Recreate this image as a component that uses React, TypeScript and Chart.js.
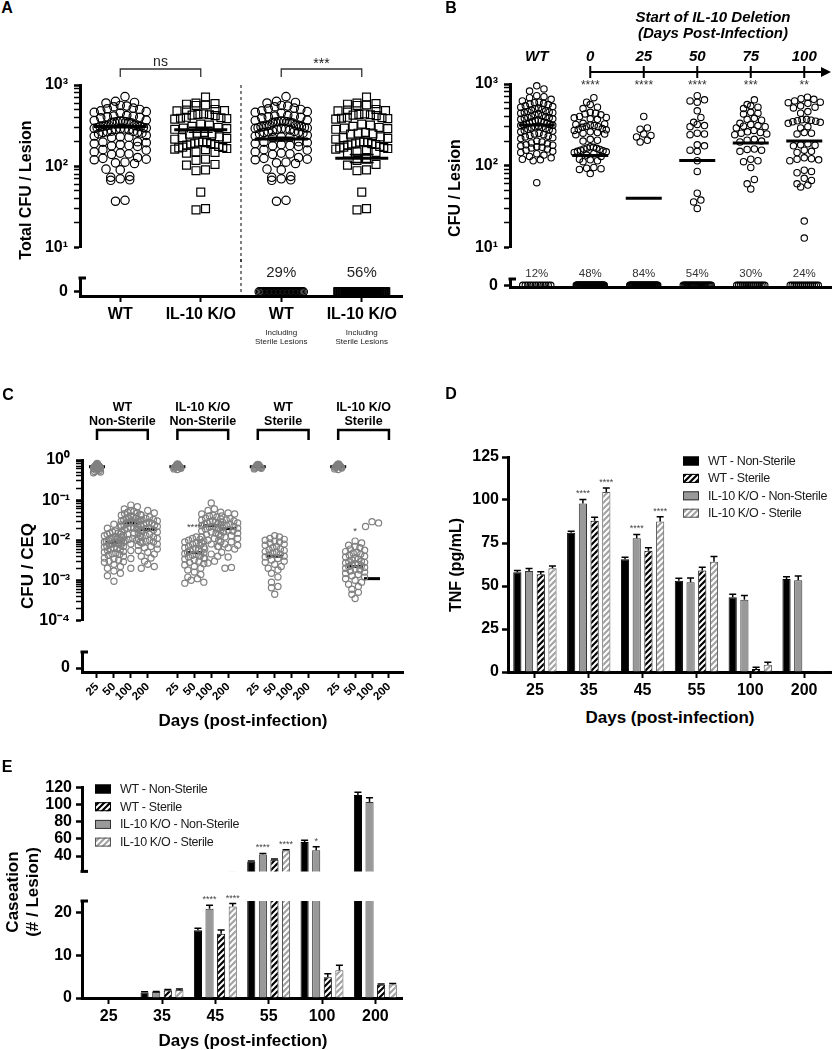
import React, { useEffect, useRef } from "react";
import { Chart, registerables } from "chart.js";

Chart.register(...registerables);

const FONT = "'Liberation Sans', Arial, Helvetica, sans-serif";

/* ================= Panel A : Total CFU / Lesion ================= */
const aCategories = ["WT", "IL-10 K/O", "WT", "IL-10 K/O"];
const aSubLabels = [[], [], ["Including", "Sterile Lesions"], ["Including", "Sterile Lesions"]];
const aWildType = [720, 630, 610, 600, 560, 550, 540, 520, 510, 500, 480, 470, 460, 450, 420, 415, 410, 405, 400, 395, 370, 365, 360, 358, 355, 352, 350, 348, 345, 340, 320, 318, 315, 312, 310, 308, 305, 300, 298, 295, 292, 290, 288, 285, 280, 270, 268, 265, 262, 260, 255, 250, 240, 235, 230, 228, 225, 200, 198, 195, 190, 185, 180, 178, 175, 160, 158, 150, 145, 142, 140, 128, 125, 122, 120, 112, 110, 108, 92, 90, 75, 73, 70, 68, 67, 38, 37];
const aKnockout = [710, 600, 590, 580, 570, 560, 500, 490, 485, 480, 440, 435, 430, 425, 420, 400, 395, 390, 385, 380, 330, 320, 310, 300, 295, 290, 285, 260, 255, 250, 248, 230, 225, 220, 215, 200, 198, 195, 192, 190, 188, 185, 182, 175, 172, 170, 168, 165, 162, 160, 150, 148, 145, 122, 118, 105, 103, 90, 88, 48, 30, 29];
const aColumns = [aWildType, aKnockout, aWildType, aKnockout];
const aMarkers = ["circle", "rect", "circle", "rect"];
const aSterileCounts = [0, 0, 35, 70];
const aMeans = [308, 282, 216, 125];
const aSEM = [10, 20, 12, 14];
const aPercents = ["", "", "29%", "56%"];
const aPairs = [[0, 1], [2, 3]];
const aPairLabels = ["ns", "***"];

/* ================= Panel B : CFU / Lesion by deletion start ================= */
const bCategories = ["WT", "0", "25", "50", "75", "100"];
const bWildType = [950, 870, 820, 720, 700, 680, 650, 620, 600, 590, 580, 570, 560, 540, 530, 520, 510, 500, 490, 480, 470, 460, 455, 450, 445, 440, 430, 420, 410, 400, 395, 390, 385, 380, 375, 370, 360, 355, 350, 345, 340, 335, 330, 325, 320, 315, 312, 310, 305, 300, 295, 290, 285, 280, 275, 270, 265, 260, 250, 245, 240, 235, 230, 225, 220, 215, 200, 195, 190, 185, 180, 178, 175, 170, 168, 165, 160, 155, 150, 145, 140, 135, 130, 125, 120, 118, 115, 62];
const bDay0 = [680, 600, 560, 520, 500, 450, 440, 430, 420, 400, 390, 385, 375, 370, 330, 325, 320, 315, 310, 305, 300, 295, 285, 280, 275, 270, 260, 255, 250, 245, 240, 210, 205, 200, 170, 168, 165, 163, 160, 158, 155, 152, 150, 148, 145, 140, 135, 130, 120, 118, 115, 112, 95, 93, 92, 90, 80];
const bDay25 = [400, 290, 280, 245, 235, 225, 205, 195];
const bDay50 = [720, 640, 620, 600, 470, 390, 340, 320, 310, 300, 250, 245, 240, 180, 175, 155, 150, 115, 85, 46, 38, 36, 30];
const bDay75 = [640, 560, 540, 520, 500, 450, 440, 430, 380, 370, 360, 330, 320, 310, 305, 300, 290, 270, 260, 255, 250, 245, 240, 210, 205, 200, 195, 160, 158, 155, 150, 120, 115, 112, 95, 68, 60, 52];
const bDay100 = [690, 660, 650, 620, 600, 590, 580, 540, 520, 510, 460, 440, 370, 365, 360, 355, 350, 345, 340, 330, 300, 290, 255, 250, 245, 185, 180, 178, 175, 155, 150, 145, 125, 122, 120, 118, 115, 88, 85, 82, 70, 66, 60, 58, 55, 21, 13];
const bColumns = [bWildType, bDay0, bDay25, bDay50, bDay75, bDay100];
const bSterileCounts = [12, 53, 42, 27, 16, 15];
const bMedians = [315, 133, 40, 116, 190, 200];
const bStars = ["", "****", "****", "****", "***", "**"];
const bPercents = ["12%", "48%", "84%", "54%", "30%", "24%"];

/* ================= Panel C : CFU / CEQ ================= */
const cGroups = [["WT", "Non-Sterile"], ["IL-10 K/O", "Non-Sterile"], ["WT", "Sterile"], ["IL-10 K/O", "Sterile"]];
const cDays = ["25", "50", "100", "200"];
const cWtNonSterile = [
  [0.82, 0.8, 0.78, 0.76, 0.75, 0.74, 0.72, 0.71, 0.7, 0.7, 0.69, 0.68, 0.67, 0.66, 0.65, 0.64, 0.63, 0.62, 0.6, 0.58, 0.56, 0.54, 0.52, 0.5, 0.48],
  [0.025, 0.024, 0.02, 0.017, 0.016, 0.015, 0.015, 0.014, 0.014, 0.013, 0.013, 0.012, 0.012, 0.011, 0.011, 0.011, 0.01, 0.01, 0.01, 0.0095, 0.009, 0.009, 0.0088, 0.0085, 0.008, 0.008, 0.0078, 0.0075, 0.0072, 0.007, 0.0068, 0.0065, 0.0062, 0.006, 0.0058, 0.0055, 0.0052, 0.005, 0.0048, 0.0046, 0.0044, 0.0042, 0.004, 0.0036, 0.0034, 0.0032, 0.003, 0.0029, 0.0028, 0.0025, 0.0022, 0.002, 0.0017, 0.0015, 0.0013, 0.00095],
  [0.075, 0.068, 0.06, 0.055, 0.052, 0.05, 0.048, 0.046, 0.044, 0.042, 0.04, 0.038, 0.036, 0.035, 0.034, 0.033, 0.032, 0.031, 0.03, 0.029, 0.028, 0.027, 0.026, 0.025, 0.024, 0.023, 0.022, 0.021, 0.02, 0.02, 0.019, 0.018, 0.017, 0.016, 0.015, 0.014, 0.013, 0.012, 0.011, 0.0105, 0.01, 0.0095, 0.009, 0.0085, 0.008, 0.0055, 0.0035, 0.002],
  [0.055, 0.048, 0.042, 0.038, 0.035, 0.033, 0.032, 0.03, 0.029, 0.028, 0.027, 0.026, 0.025, 0.024, 0.023, 0.022, 0.021, 0.02, 0.019, 0.018, 0.017, 0.016, 0.015, 0.014, 0.013, 0.012, 0.012, 0.011, 0.011, 0.01, 0.0095, 0.009, 0.0085, 0.008, 0.0075, 0.007, 0.0065, 0.006, 0.0055, 0.005, 0.0045, 0.004, 0.0036, 0.003, 0.0025, 0.0022, 0.002],
];
const cKoNonSterile = [
  [0.8, 0.78, 0.76, 0.74, 0.72, 0.7, 0.7, 0.68, 0.67, 0.66, 0.65, 0.64, 0.62, 0.6, 0.58],
  [0.012, 0.011, 0.0105, 0.01, 0.0095, 0.009, 0.0085, 0.008, 0.0075, 0.007, 0.0068, 0.0065, 0.0062, 0.006, 0.0058, 0.0055, 0.0052, 0.005, 0.0048, 0.0046, 0.0044, 0.0042, 0.004, 0.0038, 0.0036, 0.0034, 0.0032, 0.003, 0.0028, 0.0026, 0.0024, 0.0022, 0.002, 0.0018, 0.0016, 0.0014, 0.0012, 0.0011, 0.001, 0.0009, 0.00085],
  [0.085, 0.06, 0.055, 0.05, 0.045, 0.042, 0.04, 0.038, 0.036, 0.034, 0.032, 0.03, 0.029, 0.028, 0.027, 0.026, 0.025, 0.024, 0.023, 0.022, 0.021, 0.02, 0.019, 0.018, 0.017, 0.016, 0.015, 0.014, 0.013, 0.012, 0.011, 0.01, 0.009, 0.0085, 0.008, 0.007, 0.006, 0.0045, 0.004, 0.0035, 0.003, 0.0027],
  [0.048, 0.045, 0.04, 0.035, 0.032, 0.03, 0.028, 0.027, 0.026, 0.025, 0.024, 0.022, 0.021, 0.02, 0.019, 0.018, 0.017, 0.016, 0.015, 0.014, 0.013, 0.012, 0.011, 0.01, 0.009, 0.008, 0.0075, 0.007, 0.0065, 0.006, 0.005, 0.0038, 0.0021, 0.002],
];
const cWtSterile = [
  [0.78, 0.76, 0.74, 0.72, 0.7, 0.68, 0.66, 0.65, 0.63, 0.62, 0.6],
  [0.013, 0.012, 0.011, 0.0105, 0.01, 0.0095, 0.009, 0.0085, 0.008, 0.0075, 0.007, 0.0065, 0.006, 0.0058, 0.0055, 0.0052, 0.005, 0.0048, 0.0045, 0.0042, 0.004, 0.0038, 0.0035, 0.0032, 0.003, 0.0028, 0.0025, 0.0022, 0.002, 0.0018, 0.0015, 0.0012, 0.0009, 0.0007, 0.00065, 0.00045],
  [],
  [],
];
const cKoSterile = [
  [0.8, 0.78, 0.76, 0.74, 0.72, 0.7, 0.69, 0.68, 0.66, 0.65, 0.63, 0.6, 0.58],
  [0.0095, 0.0085, 0.0075, 0.007, 0.0065, 0.006, 0.0056, 0.0052, 0.005, 0.0048, 0.0045, 0.0042, 0.004, 0.0038, 0.0036, 0.0034, 0.0032, 0.003, 0.0029, 0.0028, 0.0027, 0.0026, 0.0025, 0.0024, 0.0023, 0.0022, 0.0021, 0.002, 0.0019, 0.0018, 0.0017, 0.0016, 0.0015, 0.0014, 0.0013, 0.0012, 0.0011, 0.001, 0.0009, 0.0008, 0.0007, 0.0006, 0.0005, 0.00045, 0.00035],
  [0.029, 0.027, 0.022],
  [],
];
const cValues = [cWtNonSterile, cKoNonSterile, cWtSterile, cKoSterile];
const cMeans = [[0.68, 0.0088, 0.027, 0.0186], [0.68, 0.0049, 0.023, 0.0195], [0.68, 0.004, null, null], [0.68, 0.0022, 0.0011, null]];
const cStars = [["", "", "", ""], ["", "****", "", ""], ["", "", "", ""], ["", "*", "", ""]];

/* ================= Panels D & E : bars ================= */
const seriesLabels = ["WT - Non-Sterile", "IL-10 K/O - Non-Sterile", "WT - Sterile", "IL-10 K/O - Sterile"];
const legendOrder = [0, 2, 1, 3];

const dDays = ["25", "35", "45", "55", "100", "200"];
const dWtNonSterile = [58, 81, 65.5, 53, 43.5, 54];
const dKoNonSterile = [58.7, 98, 77.7, 52.2, 42, 53.3];
const dWtSterile = [56.8, 88, 70.5, 59, 1.7, 0.3];
const dKoSterile = [60.3, 104.7, 87.5, 64.1, 4.2, 0.5];
const dWtNonSterileErr = [1, 0.8, 1.2, 1.5, 1.7, 1.4];
const dKoNonSterileErr = [1.5, 2.3, 2.3, 2.5, 2.5, 2.5];
const dWtSterileErr = [1.5, 1.9, 1.7, 1.9, 1, 0];
const dKoSterileErr = [1.4, 2.3, 2.7, 3.1, 1.4, 0];
const dKoNonSterileStars = ["", "****", "****", "", "", ""];
const dKoSterileStars = ["", "****", "****", "", "", ""];

const eDays = ["25", "35", "45", "55", "100", "200"];
const eWtNonSterile = [0, 1.3, 15.9, 33.3, 56.3, 111.3];
const eKoNonSterile = [0, 1.4, 21, 41.7, 46.7, 103.3];
const eWtSterile = [0, 1.8, 15.1, 35.7, 4.9, 3.1];
const eKoSterile = [0, 1.9, 21.5, 46.3, 6.5, 3.2];
const eWtNonSterileErr = [0, 0.15, 0.5, 0.8, 2, 3.3];
const eKoNonSterileErr = [0, 0.15, 0.8, 1.3, 4, 4.7];
const eWtSterileErr = [0, 0.2, 0.9, 0.8, 0.8, 0.2];
const eKoSterileErr = [0, 0.2, 0.7, 1, 1.2, 0.2];
const eKoNonSterileStars = ["", "", "****", "****", "*", ""];
const eKoSterileStars = ["", "", "****", "****", "", ""];

/* ================= helpers ================= */
const tickFont = { family: FONT, size: 16, weight: "bold" };
const SUP: any = { "0": "\u2070", "1": "\u00B9", "2": "\u00B2", "3": "\u00B3", "4": "\u2074", "5": "\u2075", "6": "\u2076", "7": "\u2077", "8": "\u2078", "9": "\u2079", "-": "\u207B" };

function powLabel(v: number) {
  if (!(v > 0)) return "";
  const e = Math.round(Math.log10(v));
  if (Math.abs(v / Math.pow(10, e) - 1) > 1e-6) return "";
  return "10" + String(e).split("").map((ch) => SUP[ch] || ch).join("");
}

function logTicks(min: number, max: number) {
  const out: any[] = [];
  for (let e = Math.floor(Math.log10(min)); e <= Math.ceil(Math.log10(max)); e++) {
    for (let m = 1; m < 10; m++) {
      const v = m * Math.pow(10, e);
      if (v >= min * 0.999 && v <= max * 1.001) out.push({ value: v });
    }
  }
  return out;
}

function yLog(min: number, max: number, w: number) {
  return {
    type: "logarithmic", position: "left", min, max,
    afterFit: (s: any) => { s.width = w; },
    afterBuildTicks: (s: any) => { s.ticks = logTicks(min, max); },
    ticks: { autoSkip: false, color: "#000", font: tickFont, padding: 6, callback: (v: number) => powLabel(v) },
    grid: { drawOnChartArea: false, color: "#000", tickLength: 6, tickWidth: (c: any) => (c.tick && powLabel(c.tick.value) ? 2.5 : 1.5) },
    border: { color: "#000", width: 3 },
  };
}

function yLin(min: number, max: number, w: number, ticks: number[], pad: number) {
  return {
    type: "linear", position: "left", min, max,
    afterFit: (s: any) => { s.width = w; },
    afterBuildTicks: (s: any) => { s.ticks = ticks.map((v) => ({ value: v })); },
    ticks: { autoSkip: false, color: "#000", font: tickFont, padding: pad, callback: (v: number) => String(v) },
    grid: { drawOnChartArea: false, color: "#000", tickLength: 6, tickWidth: 2.5 },
    border: { color: "#000", width: 3 },
  };
}

function xLin(min: number, max: number, o: any) {
  return {
    type: "linear", position: "bottom", min, max, display: o.show,
    afterFit: (s: any) => { s.height = o.h; },
    afterBuildTicks: (s: any) => { s.ticks = (o.ticks || []).map((v: number) => ({ value: v })); },
    ticks: {
      display: !!o.labels, autoSkip: false, color: "#000", font: o.font || tickFont, padding: o.pad ?? 3,
      minRotation: o.rot || 0, maxRotation: o.rot || 0,
      callback: (_v: number, i: number) => (o.labels ? o.labels[i] : ""),
    },
    grid: { display: !!o.tickLen, drawOnChartArea: false, color: "#000", tickLength: o.tickLen || 0, tickWidth: 2 },
    border: { color: "#000", width: 3 },
  };
}

function xCat(show: boolean, h: number) {
  return {
    type: "category", display: show, offset: true,
    afterFit: (s: any) => { s.height = h; },
    ticks: { autoSkip: false, color: "#000", font: tickFont, padding: 3, maxRotation: 0, minRotation: 0 },
    grid: { offset: false, drawOnChartArea: false, color: "#000", tickLength: 6, tickWidth: 2 },
    border: { color: "#000", width: 3 },
  };
}

function stub(chart: any, where: string) {
  const { ctx, chartArea: ca } = chart;
  const y = where === "top" ? ca.top : ca.bottom;
  ctx.save();
  ctx.strokeStyle = "#000";
  ctx.lineWidth = 3;
  ctx.beginPath();
  ctx.moveTo(ca.left - 1.5, y);
  ctx.lineTo(ca.left + 6, y);
  ctx.stroke();
  ctx.restore();
}

/* bee-swarm style layout of each dot column, in pixel space through the chart's scales */
function swarm(chart: any, cols: any[]) {
  const xs = chart.scales.x, ys = chart.scales.y;
  cols.forEach((c: any, di: number) => {
    if (!c.values.length) return;
    const cx = xs.getPixelForValue(c.x);
    const pts = c.values.map((v: number) => ({ v, py: ys.getPixelForValue(v) })).sort((a: any, b: any) => a.py - b.py);
    const rows: any[][] = [];
    let row: any[] = [];
    pts.forEach((p: any) => {
      if (row.length && p.py - row[0].py > c.diam * 0.8) { rows.push(row); row = []; }
      row.push(p);
    });
    if (row.length) rows.push(row);
    const data: any[] = [];
    rows.forEach((r) => {
      const n = r.length;
      const step = n > 1 ? Math.min(c.diam, c.width / (n - 1)) : 0;
      const slots = r.map((_: any, j: number) => (j - (n - 1) / 2) * step).sort((a: number, b: number) => Math.abs(a) - Math.abs(b) || b - a);
      r.forEach((p: any, j: number) => data.push({ x: xs.getValueForPixel(cx + slots[j]), y: p.v }));
    });
    chart.data.datasets[di].data = data;
  });
  chart.update();
}

function dotConfig(o: any) {
  const datasets: any[] = o.cols.map((c: any) => ({
    type: "scatter",
    data: c.values.map((v: number) => ({ x: c.x, y: v })),
    pointStyle: c.marker, pointRadius: c.radius, pointBorderColor: c.color,
    pointBackgroundColor: "rgba(255,255,255,0)", pointBorderWidth: c.bw, clip: false,
  }));
  if (o.means) {
    datasets.push({
      type: "scatter",
      data: o.means.filter((m: any) => m.y != null),
      pointStyle: "line", pointRadius: o.meanHalf, pointBorderColor: "#000", borderColor: "#000",
      pointBorderWidth: 3, borderWidth: 3, clip: false,
    });
  }
  const plugin: any = { id: "deco" };
  if (o.before) plugin.beforeDatasetsDraw = o.before;
  if (o.after) plugin.afterDatasetsDraw = o.after;
  const config = {
    type: "scatter",
    data: { datasets },
    options: { scales: { x: o.x, y: o.y }, plugins: { legend: { display: false }, tooltip: { enabled: false } } },
    plugins: [plugin],
  };
  return { config, after: (chart: any) => swarm(chart, o.cols) };
}

function stripes(bg: string, fg: string) {
  const c = document.createElement("canvas");
  c.width = 6; c.height = 6;
  const g: any = c.getContext("2d");
  g.fillStyle = bg; g.fillRect(0, 0, 6, 6);
  g.strokeStyle = fg; g.lineWidth = 2;
  g.beginPath();
  g.moveTo(0, 6); g.lineTo(6, 0);
  g.moveTo(-3, 3); g.lineTo(3, -3);
  g.moveTo(3, 9); g.lineTo(9, 3);
  g.stroke();
  return g.createPattern(c, "repeat");
}

function barConfig(o: any) {
  const styles = [
    { bg: "#000", border: "#000" },
    { bg: "#999", border: "#333" },
    { bg: stripes("#000", "#fff"), border: "#000" },
    { bg: stripes("#a3a3a3", "#fff"), border: "#555" },
  ];
  const datasets = o.series.map((vals: number[], i: number) => ({
    type: "bar", label: seriesLabels[i], data: vals,
    backgroundColor: styles[i].bg, borderColor: styles[i].border, borderWidth: 1,
    categoryPercentage: 0.87, barPercentage: 0.7, clip: o.clip,
  }));
  const plugins: any[] = [{
    id: "barDeco",
    afterDatasetsDraw(chart: any) {
      const ctx = chart.ctx, y = chart.scales.y;
      if (o.stubs) o.stubs.forEach((s: string) => stub(chart, s));
      chart.data.datasets.forEach((ds: any, di: number) => {
        const meta = chart.getDatasetMeta(di);
        meta.data.forEach((bar: any, i: number) => {
          const v = ds.data[i], e = o.errors[di][i];
          if (v < o.decoMin || v > y.max) return;
          const top = y.getPixelForValue(v), et = y.getPixelForValue(v + e);
          ctx.save();
          ctx.strokeStyle = "#000"; ctx.lineWidth = 1.5;
          if (e > 0) {
            ctx.beginPath();
            ctx.moveTo(bar.x, top); ctx.lineTo(bar.x, et);
            ctx.moveTo(bar.x - 3.5, et); ctx.lineTo(bar.x + 3.5, et);
            ctx.stroke();
          }
          const s = o.stars[di] && o.stars[di][i];
          if (s) {
            ctx.fillStyle = "#444"; ctx.font = `9px ${FONT}`;
            ctx.textAlign = "center"; ctx.textBaseline = "alphabetic";
            ctx.fillText(s, bar.x, et - 3);
          }
          ctx.restore();
        });
      });
    },
  }];
  if (o.legend) {
    plugins.push({
      id: "legendBox",
      afterDraw(chart: any) {
        const ctx = chart.ctx;
        const L = o.legend;
        legendOrder.forEach((di, k) => {
          const ds = chart.data.datasets[di];
          const cy = L.y + k * L.rowH;
          ctx.save();
          ctx.fillStyle = ds.backgroundColor;
          ctx.fillRect(L.x, cy - 4.5, 16, 9);
          ctx.strokeStyle = ds.borderColor; ctx.lineWidth = 1;
          ctx.strokeRect(L.x + 0.5, cy - 4, 15, 8);
          ctx.fillStyle = "#1a1a1a"; ctx.font = `12.5px ${FONT}`;
          try { ctx.letterSpacing = "-0.35px"; } catch (err) { /* ignore */ }
          ctx.textAlign = "left"; ctx.textBaseline = "middle";
          ctx.fillText(ds.label, L.x + 25, cy + 0.5);
          ctx.restore();
        });
      },
    });
  }
  const config = {
    type: "bar",
    data: { labels: o.labels, datasets },
    options: { scales: { x: xCat(o.showX, o.xh), y: o.y }, plugins: { legend: { display: false }, tooltip: { enabled: false } } },
    plugins,
  };
  return { config };
}

/* ================= chart container ================= */
function ChartBox({ area, pad, make }: any) {
  const ref = useRef<HTMLCanvasElement>(null);
  const left = area.L - pad.l, top = area.T - pad.t;
  const width = area.R - area.L + pad.l + pad.r, height = area.B - area.T + pad.t + pad.b;
  useEffect(() => {
    const { config, after } = make({ left, top });
    config.options = {
      ...config.options,
      responsive: false, maintainAspectRatio: false, animation: false, events: [],
      layout: { autoPadding: false, padding: { left: 0, top: pad.t, right: pad.r, bottom: pad.b - pad.xh } },
    };
    const chart = new Chart(ref.current as any, config as any);
    if (after) after(chart);
    return () => chart.destroy();
  }, []);
  return <canvas ref={ref} width={width} height={height} style={{ position: "absolute", left, top, width, height }} />;
}

function Txt({ x, y, size, bold, italic, rot, children }: any) {
  return (
    <div style={{
      position: "absolute", left: x, top: y, transform: `translate(-50%, -50%)${rot ? ` rotate(${rot}deg)` : ""}`,
      fontFamily: FONT, fontSize: size, fontWeight: bold ? 700 : 400, fontStyle: italic ? "italic" : "normal",
      whiteSpace: "nowrap", lineHeight: 1, color: "#000",
    }}>{children}</div>
  );
}

/* ================= layouts (chart areas in page pixels) ================= */
const A_LOG = { L: 80, T: 85, R: 402, B: 259 };
const A_LOG_PAD = { l: 70, t: 45, r: 8, b: 4, xh: 0 };
const A_ZERO = { L: 80, T: 278, R: 402, B: 296 };
const A_ZERO_PAD = { l: 70, t: 19, r: 8, b: 58, xh: 30 };
const B_LOG = { L: 510, T: 84, R: 831, B: 259 };
const B_LOG_PAD = { l: 60, t: 84, r: 1, b: 4, xh: 0 };
const B_ZERO = { L: 510, T: 279, R: 831, B: 297 };
const B_ZERO_PAD = { l: 60, t: 20, r: 1, b: 6, xh: 2 };
const C_LOG = { L: 82, T: 460, R: 403, B: 633 };
const C_LOG_PAD = { l: 72, t: 65, r: 6, b: 3, xh: 0 };
const C_ZERO = { L: 82, T: 652, R: 403, B: 672 };
const C_ZERO_PAD = { l: 72, t: 19, r: 6, b: 36, xh: 34 };
const D_AREA = { L: 508, T: 457, R: 831, B: 672 };
const D_PAD = { l: 58, t: 20, r: 1, b: 30, xh: 28 };
const E_UP = { L: 82, T: 784, R: 402, B: 883 };
const E_UP_PAD = { l: 72, t: 10, r: 20, b: 2, xh: 0 };
const E_LOW = { L: 82, T: 901, R: 402, B: 998 };
const E_LOW_PAD = { l: 72, t: 17, r: 20, b: 30, xh: 28 };

const cPos = (g: number, k: number) => g * 4.75 + k;

/* ---------- Panel A ---------- */
function makeALog() {
  const cols = aColumns.map((vals, i) => ({
    x: i, values: vals, marker: aMarkers[i], radius: aMarkers[i] === "rect" ? 5.6 : 4.2,
    color: "#000", bw: 1.2, width: 52, diam: 9.5,
  }));
  return dotConfig({
    cols,
    means: aMeans.map((m, i) => ({ x: i, y: m })), meanHalf: 26.5,
    x: xLin(-0.5, 3.5, { show: false, h: 0 }),
    y: yLog(10, 1000, A_LOG_PAD.l),
    before(chart: any) {
      const { ctx, chartArea: ca, scales: { x } } = chart;
      const sx = x.getPixelForValue(1.5);
      ctx.save(); ctx.setLineDash([3, 3]); ctx.lineWidth = 1; ctx.strokeStyle = "#000";
      ctx.beginPath(); ctx.moveTo(sx, ca.top); ctx.lineTo(sx, chart.height); ctx.stroke(); ctx.restore();
    },
    after(chart: any) {
      const { ctx, chartArea: ca, scales: { x, y } } = chart;
      ctx.save();
      ctx.strokeStyle = "#000"; ctx.lineWidth = 1.5;
      aMeans.forEach((m, i) => {
        const px = x.getPixelForValue(i);
        const y1 = y.getPixelForValue(m + aSEM[i]), y2 = y.getPixelForValue(m - aSEM[i]);
        ctx.beginPath();
        ctx.moveTo(px, y1); ctx.lineTo(px, y2);
        ctx.moveTo(px - 12, y1); ctx.lineTo(px + 12, y1);
        ctx.moveTo(px - 12, y2); ctx.lineTo(px + 12, y2);
        ctx.stroke();
      });
      ctx.strokeStyle = "#333"; ctx.lineWidth = 1.3;
      aPairs.forEach(([a, b], k) => {
        const xa = x.getPixelForValue(a), xb = x.getPixelForValue(b);
        const yb = ca.top - 16;
        ctx.beginPath();
        ctx.moveTo(xa, ca.top - 8); ctx.lineTo(xa, yb); ctx.lineTo(xb, yb); ctx.lineTo(xb, ca.top - 8);
        ctx.stroke();
        ctx.fillStyle = "#222"; ctx.font = `14px ${FONT}`; ctx.textAlign = "center"; ctx.textBaseline = "alphabetic";
        ctx.fillText(aPairLabels[k], (xa + xb) / 2, aPairLabels[k] === "ns" ? ca.top - 19 : ca.top - 17);
      });
      ctx.restore();
    },
  });
}

function makeAZero() {
  const cols = aSterileCounts.map((n, i) => ({
    x: i, values: new Array(n).fill(0), marker: aMarkers[i], radius: aMarkers[i] === "rect" ? 5.6 : 4.2,
    color: "#000", bw: 1.2, width: aMarkers[i] === "rect" ? 48 : 44, diam: 9.5,
  }));
  return dotConfig({
    cols,
    x: xLin(-0.5, 3.5, { show: true, h: 30, ticks: [0, 1, 2, 3], labels: aCategories, tickLen: 6, pad: 3 }),
    y: { ...yLin(-0.45, 1.5, A_ZERO_PAD.l, [0], 6) },
    before(chart: any) {
      const { ctx, chartArea: ca, scales: { x } } = chart;
      const sx = x.getPixelForValue(1.5);
      ctx.save(); ctx.setLineDash([3, 3]); ctx.lineWidth = 1; ctx.strokeStyle = "#000";
      ctx.beginPath(); ctx.moveTo(sx, 0); ctx.lineTo(sx, ca.bottom); ctx.stroke(); ctx.restore();
    },
    after(chart: any) {
      const { ctx, chartArea: ca, scales: { x, y } } = chart;
      stub(chart, "top");
      const y0 = y.getPixelForValue(0);
      ctx.save();
      ctx.fillStyle = "#222"; ctx.textAlign = "center";
      ctx.font = `15px ${FONT}`; ctx.textBaseline = "alphabetic";
      aPercents.forEach((p, i) => p && ctx.fillText(p, x.getPixelForValue(i), y0 - 15));
      ctx.font = `8px ${FONT}`; ctx.textBaseline = "middle";
      aSubLabels.forEach((lines, i) => lines.forEach((t, j) => ctx.fillText(t, x.getPixelForValue(i), ca.bottom + 37 + j * 9)));
      ctx.restore();
    },
  });
}

/* ---------- Panel B ---------- */
function makeBLog() {
  const cols = bColumns.map((vals, i) => ({ x: i, values: vals, marker: "circle", radius: 3.2, color: "#000", bw: 1.1, width: 32, diam: 7.2 }));
  return dotConfig({
    cols,
    means: bMedians.map((m, i) => ({ x: i, y: m })), meanHalf: 18,
    x: xLin(-0.5, 5.5, { show: false, h: 0 }),
    y: yLog(10, 1000, B_LOG_PAD.l),
    after(chart: any) {
      const { ctx, chartArea: ca, scales: { x } } = chart;
      const ya = ca.top - 12;
      ctx.save();
      ctx.strokeStyle = "#000"; ctx.fillStyle = "#000"; ctx.lineWidth = 2;
      const x1 = x.getPixelForValue(1), tip = chart.width - 1;
      ctx.beginPath(); ctx.moveTo(x1, ya); ctx.lineTo(tip - 6, ya); ctx.stroke();
      ctx.beginPath(); ctx.moveTo(tip, ya); ctx.lineTo(tip - 10, ya - 5); ctx.lineTo(tip - 10, ya + 5); ctx.closePath(); ctx.fill();
      for (let i = 1; i < bCategories.length; i++) {
        const px = x.getPixelForValue(i);
        ctx.beginPath(); ctx.moveTo(px, ya - 6); ctx.lineTo(px, ya + 6); ctx.stroke();
      }
      ctx.font = `italic bold 15px ${FONT}`; ctx.textAlign = "center"; ctx.textBaseline = "middle";
      bCategories.forEach((lab, i) => ctx.fillText(lab, x.getPixelForValue(i), ca.top - 27));
      ctx.font = `12px ${FONT}`; ctx.fillStyle = "#333";
      bStars.forEach((s, i) => s && ctx.fillText(s, x.getPixelForValue(i), ca.top + 2));
      ctx.restore();
    },
  });
}

function makeBZero() {
  const cols = bSterileCounts.map((n, i) => ({ x: i, values: new Array(n).fill(0), marker: "circle", radius: 3.2, color: "#000", bw: 1.1, width: 28, diam: 7.2 }));
  return dotConfig({
    cols,
    x: xLin(-0.5, 5.5, { show: true, h: 2 }),
    y: yLin(-0.5, 1.5, B_ZERO_PAD.l, [0], 6),
    after(chart: any) {
      const { ctx, scales: { x, y } } = chart;
      stub(chart, "top");
      const y0 = y.getPixelForValue(0);
      ctx.save();
      ctx.fillStyle = "#333"; ctx.textAlign = "center"; ctx.font = `11.5px ${FONT}`; ctx.textBaseline = "alphabetic";
      bPercents.forEach((p, i) => ctx.fillText(p, x.getPixelForValue(i), y0 - 8));
      ctx.restore();
    },
  });
}

/* ---------- Panel C ---------- */
const cTicks: number[] = [];
const cTickLabels: string[] = [];
cGroups.forEach((_, g) => cDays.forEach((d, k) => { cTicks.push(cPos(g, k)); cTickLabels.push(d); }));

function makeCLog() {
  const cols: any[] = [];
  const means: any[] = [];
  cValues.forEach((grp, g) => grp.forEach((vals, k) => {
    cols.push({ x: cPos(g, k), values: vals, marker: "circle", radius: 3.1, color: "#808080", bw: 1.2, width: k === 0 ? 7 : 19, diam: 6.5 });
    means.push({ x: cPos(g, k), y: cMeans[g][k] });
  }));
  return dotConfig({
    cols, means, meanHalf: 8,
    x: xLin(-0.886, 18.08, { show: false, h: 0 }),
    y: yLog(0.0001, 1, C_LOG_PAD.l),
    after(chart: any) {
      const { ctx, chartArea: ca, scales: { x, y } } = chart;
      ctx.save();
      ctx.strokeStyle = "#000"; ctx.lineWidth = 2.5; ctx.fillStyle = "#000";
      cGroups.forEach((lines, g) => {
        const xa = x.getPixelForValue(cPos(g, 0)), xb = x.getPixelForValue(cPos(g, 3));
        ctx.beginPath();
        ctx.moveTo(xa, ca.top - 20); ctx.lineTo(xa, ca.top - 30); ctx.lineTo(xb, ca.top - 30); ctx.lineTo(xb, ca.top - 20);
        ctx.stroke();
        ctx.font = `bold 12.5px ${FONT}`; ctx.textAlign = "center"; ctx.textBaseline = "middle";
        lines.forEach((t, j) => ctx.fillText(t, (xa + xb) / 2, ca.top - 52 + j * 14));
      });
      ctx.font = `9.5px ${FONT}`; ctx.fillStyle = "#444"; ctx.textBaseline = "alphabetic";
      cStars.forEach((row, g) => row.forEach((s, k) => {
        if (!s) return;
        const top = Math.max(...cValues[g][k]);
        ctx.fillText(s, x.getPixelForValue(cPos(g, k)), y.getPixelForValue(top) - 7);
      }));
      ctx.restore();
    },
  });
}

function makeCZero() {
  return dotConfig({
    cols: [],
    x: xLin(-0.886, 18.08, { show: true, h: 34, ticks: cTicks, labels: cTickLabels, tickLen: 6, rot: 45, pad: 2, font: { family: FONT, size: 11.5, weight: "bold" } }),
    y: yLin(-0.4, 1.6, C_ZERO_PAD.l, [0], 6),
    after(chart: any) { stub(chart, "top"); },
  });
}

/* ---------- Panel D ---------- */
function makeD(f: any) {
  return barConfig({
    labels: dDays,
    series: [dWtNonSterile, dKoNonSterile, dWtSterile, dKoSterile],
    errors: [dWtNonSterileErr, dKoNonSterileErr, dWtSterileErr, dKoSterileErr],
    stars: [[], dKoNonSterileStars, [], dKoSterileStars],
    y: yLin(0, 125, D_PAD.l, [0, 25, 50, 75, 100, 125], 3),
    showX: true, xh: 28, decoMin: 0,
    legend: { x: 683 - f.left, y: 461 - f.top, rowH: 17.4 },
  });
}

/* ---------- Panel E ---------- */
function makeEUp(f: any) {
  return barConfig({
    labels: eDays,
    series: [eWtNonSterile, eKoNonSterile, eWtSterile, eKoSterile],
    errors: [eWtNonSterileErr, eKoNonSterileErr, eWtSterileErr, eKoSterileErr],
    stars: [[], eKoNonSterileStars, [], eKoSterileStars],
    y: yLin(22, 120, E_UP_PAD.l, [40, 60, 80, 100, 120], 4),
    showX: false, xh: 0, decoMin: 25, clip: 0, stubs: ["bottom"],
    legend: { x: 95 - f.left, y: 789 - f.top, rowH: 17.7 },
  });
}

function makeELow() {
  return barConfig({
    labels: eDays,
    series: [eWtNonSterile, eKoNonSterile, eWtSterile, eKoSterile],
    errors: [eWtNonSterileErr, eKoNonSterileErr, eWtSterileErr, eKoSterileErr],
    stars: [[], eKoNonSterileStars, [], eKoSterileStars],
    y: yLin(0, 22.8, E_LOW_PAD.l, [0, 10, 20], 4),
    showX: true, xh: 28, decoMin: 0, clip: 0, stubs: ["top"],
  });
}

export default function App() {
  return (
    <div style={{ position: "absolute", left: 0, top: 0, width: 832, height: 1050, background: "#fff", overflow: "hidden" }}>
      <ChartBox area={A_LOG} pad={A_LOG_PAD} make={makeALog} />
      <ChartBox area={A_ZERO} pad={A_ZERO_PAD} make={makeAZero} />
      <ChartBox area={B_LOG} pad={B_LOG_PAD} make={makeBLog} />
      <ChartBox area={B_ZERO} pad={B_ZERO_PAD} make={makeBZero} />
      <ChartBox area={C_LOG} pad={C_LOG_PAD} make={makeCLog} />
      <ChartBox area={C_ZERO} pad={C_ZERO_PAD} make={makeCZero} />
      <ChartBox area={D_AREA} pad={D_PAD} make={makeD} />
      <ChartBox area={E_UP} pad={E_UP_PAD} make={makeEUp} />
      <ChartBox area={E_LOW} pad={E_LOW_PAD} make={makeELow} />

      <Txt x={7} y={8} size={16} bold>A</Txt>
      <Txt x={451} y={8} size={16} bold>B</Txt>
      <Txt x={8} y={395} size={16} bold>C</Txt>
      <Txt x={451} y={394} size={16} bold>D</Txt>
      <Txt x={7} y={767} size={16} bold>E</Txt>

      <Txt x={713} y={16} size={15} bold italic>Start of IL-10 Deletion</Txt>
      <Txt x={713} y={32} size={15} bold italic>(Days Post-Infection)</Txt>

      <Txt x={26} y={190} size={16} bold rot={-90}>Total CFU / Lesion</Txt>
      <Txt x={455} y={188} size={16} bold rot={-90}>CFU / Lesion</Txt>
      <Txt x={27} y={566} size={17} bold rot={-90}>CFU / CEQ</Txt>
      <Txt x={456} y={565} size={16} bold rot={-90}>TNF (pg/mL)</Txt>
      <Txt x={12} y={892} size={17} bold rot={-90}>Caseation</Txt>
      <Txt x={32} y={892} size={17} bold rot={-90}>(# / Lesion)</Txt>

      <Txt x={243} y={720} size={17} bold>Days (post-infection)</Txt>
      <Txt x={670} y={717} size={17} bold>Days (post-infection)</Txt>
      <Txt x={243} y={1040} size={17} bold>Days (post-infection)</Txt>
    </div>
  );
}
